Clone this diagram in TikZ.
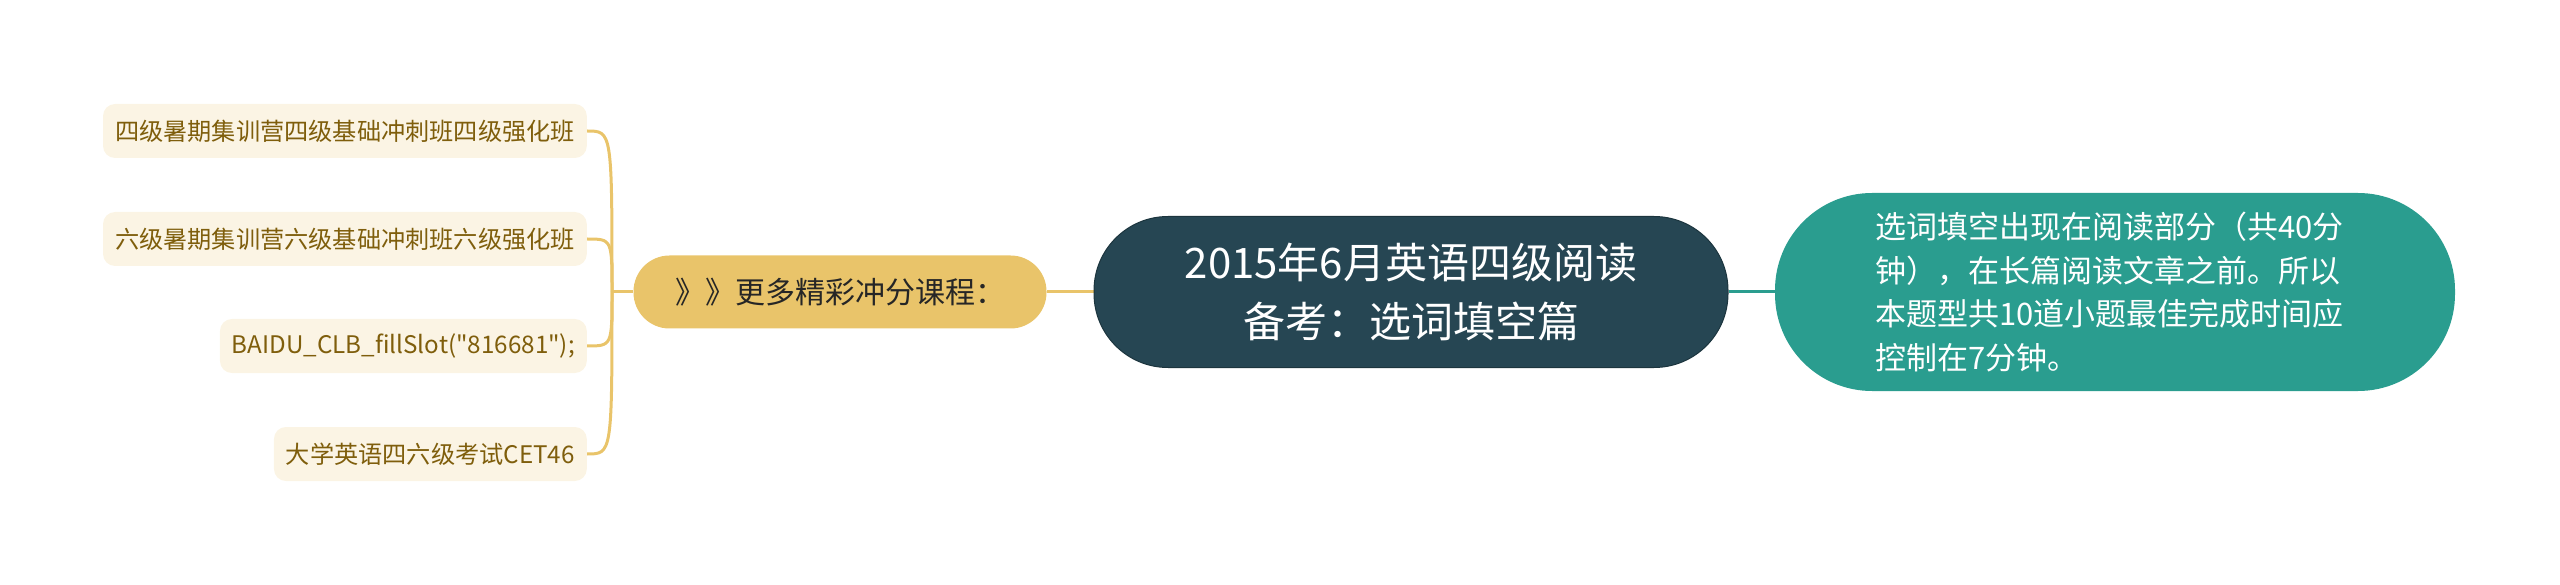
\documentclass[tikz,border=0pt]{standalone}
\usepackage{fontspec}
\newfontfamily\cjk{Noto Sans CJK SC}
\usetikzlibrary{backgrounds}

\definecolor{rootfill}{HTML}{264653}
\definecolor{tealfill}{HTML}{2A9D8F}
\definecolor{goldfill}{HTML}{E9C46A}
\definecolor{leaffill}{HTML}{FBF4E4}
\definecolor{leaftext}{HTML}{7F5E0C}

\tikzset{
  rootnode/.style={fill=rootfill, draw=rootfill!75!black, line width=1pt, rounded corners=74pt,
    minimum width=634pt, minimum height=151pt, inner sep=0pt, align=center, text=white,
    font=\cjk\fontsize{42}{59}\selectfont},
  tealnode/.style={fill=tealfill, rounded corners=97pt, minimum width=680pt, minimum height=198pt,
    inner sep=0pt, text width=480pt, align=left, text=white, font=\cjk\fontsize{31}{43.5}\selectfont},
  goldnode/.style={fill=goldfill, rounded corners=36pt, minimum width=413pt, minimum height=73pt,
    inner sep=0pt, text=black!85, font=\cjk\fontsize{30}{36}\selectfont},
  leafnode/.style={fill=leaffill, rounded corners=12pt, minimum height=54pt, inner xsep=12pt,
    inner ysep=0pt, text=leaftext, font=\cjk\fontsize{24.2}{30}\selectfont},
  goldline/.style={draw=goldfill, line width=3pt},
  tealline/.style={draw=tealfill, line width=3pt}
}

\begin{document}
\begin{tikzpicture}[x=1pt,y=-1pt]
\useasboundingbox (0,0) rectangle (2560,585);

\node[rootnode] (title) at (1411,292) {2015年6月英语四级阅读\\备考：选词填空篇};
\node[tealnode] (note) at (2115,292) {选词填空出现在阅读部分（共40分\\钟），在长篇阅读文章之前。所以\\本题型共10道小题最佳完成时间应\\控制在7分钟。};
\node[goldnode] (more) at (840,292) {》》更多精彩冲分课程：};

\node[leafnode, anchor=east] (c1) at (587,131) {四级暑期集训营四级基础冲刺班四级强化班};
\node[leafnode, anchor=east] (c2) at (587,239) {六级暑期集训营六级基础冲刺班六级强化班};
\node[leafnode, anchor=east] (c3) at (587,346) {BAIDU\_CLB\_fillSlot("816681");};
\node[leafnode, anchor=east] (c4) at (587,454) {大学英语四六级考试CET46};

\coordinate (jn) at (612,292);

\begin{pgfonlayer}{background}
\draw[goldline] (title) -- (more);
\draw[tealline] (title) -- (note);
\draw[goldline] (more) -- (jn);
\foreach \c in {c1,c2,c3,c4}
  \draw[goldline] (jn) .. controls (jn |- \c.east) .. (\c.east);
\end{pgfonlayer}
\end{tikzpicture}
\end{document}
